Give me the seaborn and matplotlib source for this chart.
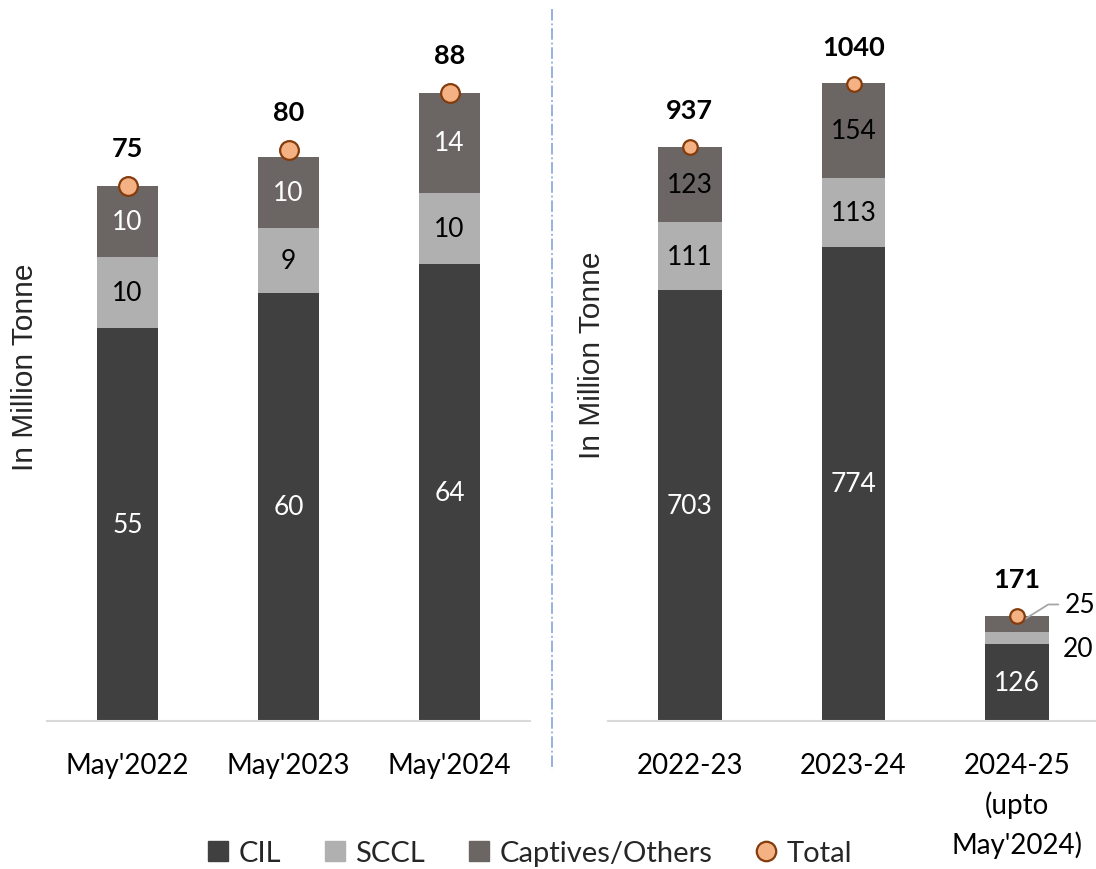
import matplotlib
matplotlib.use('Agg')
from matplotlib import pyplot as plt
from matplotlib.lines import Line2D
import pandas as pd
import seaborn as sns

# monthly figures (left panel)
month_cats = ["May'2022", "May'2023", "May'2024"]
month_cil = [55, 60, 64]
month_sccl = [10, 9, 10]
month_capt = [10, 10, 14]
month_total = [75, 80, 88]

# yearly figures (right panel)
year_cats = ['2022-23', '2023-24', "2024-25\n(upto\nMay'2024)"]
year_cil = [703, 774, 126]
year_sccl = [111, 113, 20]
year_capt = [123, 154, 25]
year_total = [937, 1040, 171]

C_CIL = '#404040'
C_SCCL = '#B0B0B0'
C_CAPT = '#6B6664'
C_FACE = '#F4B183'
C_EDGE = '#843C0C'

sns.set_style('white')
plt.rcParams['font.family'] = ['Lato', 'DejaVu Sans']

fig = plt.figure(figsize=(10.96, 8.7), dpi=100)
ax1 = fig.add_axes([47 / 1096, 148 / 870, 483 / 1096, 714 / 870])
ax2 = fig.add_axes([608 / 1096, 148 / 870, 491 / 1096, 714 / 870])


def stacked(ax, cats, cil, sccl, capt, total, width, msize):
    df = pd.DataFrame({'cat': cats, 'cil': cil, 'sccl': sccl, 'capt': capt})
    df['s2'] = df['cil'] + df['sccl']
    df['s3'] = df['s2'] + df['capt']
    # draw cumulative heights, biggest first, so they look stacked
    sns.barplot(data=df, x='cat', y='s3', color=C_CAPT, saturation=1, width=width,
                linewidth=0, ax=ax)
    sns.barplot(data=df, x='cat', y='s2', color=C_SCCL, saturation=1, width=width,
                linewidth=0, ax=ax)
    sns.barplot(data=df, x='cat', y='cil', color=C_CIL, saturation=1, width=width,
                linewidth=0, ax=ax)
    xs = list(range(len(cats)))
    ax.plot(xs, total, 'o', ms=msize, mfc=C_FACE, mec=C_EDGE, mew=1.6, zorder=5)
    for i in xs:
        ax.annotate(str(total[i]), (i, total[i]), xytext=(0, 27), textcoords='offset points',
                    ha='center', va='center', fontsize=19.5, fontweight='bold', color='black')
    return df


def style(ax, ymax, xt_size):
    ax.set_ylim(0, ymax)
    ax.set_xlim(-0.5, 2.5)
    ax.set_xlabel('')
    ax.set_ylabel('')
    ax.set_yticks([])
    for s in ['top', 'right', 'left']:
        ax.spines[s].set_visible(False)
    ax.spines['bottom'].set_color('#D9D9D9')
    ax.spines['bottom'].set_linewidth(1.5)
    ax.tick_params(axis='x', length=0, pad=22, labelsize=xt_size, colors='black')
    ax.set_facecolor('white')


df1 = stacked(ax1, month_cats, month_cil, month_sccl, month_capt, month_total, 0.385, 13.5)
for i in range(3):
    ax1.text(i, df1['cil'][i] / 2, str(month_cil[i]), ha='center', va='center', fontsize=19, color='white')
    ax1.text(i, df1['cil'][i] + month_sccl[i] / 2, str(month_sccl[i]), ha='center', va='center', fontsize=19, color='black')
    ax1.text(i, df1['s2'][i] + month_capt[i] / 2, str(month_capt[i]), ha='center', va='center', fontsize=19, color='white')
style(ax1, 100, 20)

df2 = stacked(ax2, year_cats, year_cil, year_sccl, year_capt, year_total, 0.39, 10.5)
for i in range(3):
    ax2.text(i, df2['cil'][i] / 2, str(year_cil[i]), ha='center', va='center', fontsize=19, color='white')
for i in range(2):
    ax2.text(i, df2['cil'][i] + year_sccl[i] / 2, str(year_sccl[i]), ha='center', va='center', fontsize=19, color='black')
    ax2.text(i, df2['s2'][i] + year_capt[i] / 2, str(year_capt[i]), ha='center', va='center', fontsize=19, color='black')
# small last bar: labels outside
ax2.annotate(str(year_sccl[2]), (2, df2['cil'][2] + year_sccl[2] / 2), xytext=(33, -8),
             textcoords='offset points', ha='left', va='center', fontsize=19, color='black')
ax2.annotate(str(year_capt[2]), (2, df2['s2'][2] + year_capt[2] / 2), xytext=(34, 14),
             textcoords='offset points', ha='left', va='center', fontsize=19, color='black',
             arrowprops=dict(arrowstyle='-', color='#A6A6A6', lw=1.3, shrinkA=2, shrinkB=0,
                             relpos=(0, 0.5), connectionstyle='angle,angleA=0,angleB=32,rad=0'))
style(ax2, 714 / 0.6125, 20)
for t in ax2.get_xticklabels():
    t.set_linespacing(1.55)

fig.text(25 / 1096, 1 - 367 / 870, 'In Million Tonne', rotation=90, ha='center', va='center',
         fontsize=21.5, family='Liberation Sans')
fig.text(592 / 1096, 1 - 355 / 870, 'In Million Tonne', rotation=90, ha='center', va='center',
         fontsize=21.5, family='Liberation Sans')

fig.add_artist(Line2D([552 / 1096, 552 / 1096], [1 - 10 / 870, 1 - 771 / 870],
                      transform=fig.transFigure, color='#8FAADC', lw=1.3, linestyle='-.'))

handles = [
    Line2D([], [], marker='s', ls='none', ms=14, mfc=C_CIL, mec=C_CIL),
    Line2D([], [], marker='s', ls='none', ms=14, mfc=C_SCCL, mec=C_SCCL),
    Line2D([], [], marker='s', ls='none', ms=14, mfc=C_CAPT, mec=C_CAPT),
    Line2D([], [], marker='o', ls='none', ms=14, mfc=C_FACE, mec=C_EDGE, mew=1.6),
]
fig.legend(handles, ['CIL', 'SCCL', 'Captives/Others', 'Total'], loc='center',
           bbox_to_anchor=(529 / 1096, 1 - 854 / 870), ncol=4, frameon=False, fontsize=21,
           handlelength=0.8, handletextpad=0.3, columnspacing=1.45)

fig.savefig('out.png', dpi=100, facecolor='white')
